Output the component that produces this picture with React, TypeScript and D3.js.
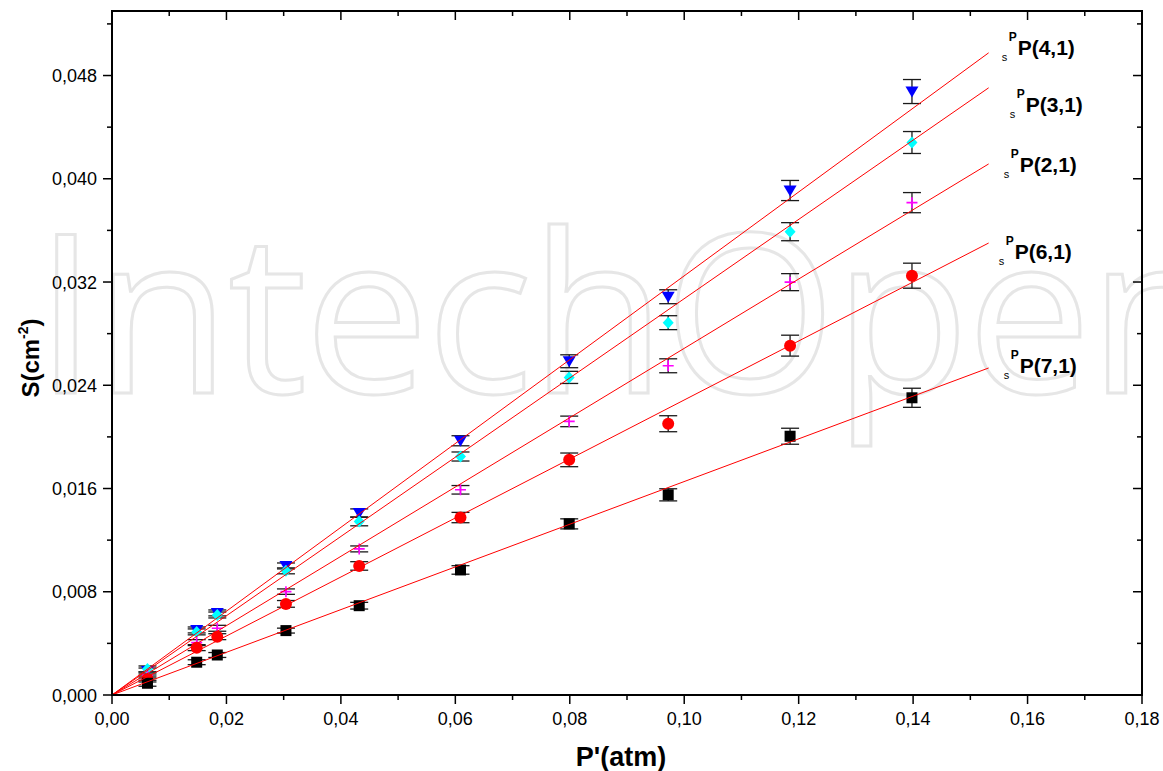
import React from "react";
import * as d3 from "d3";

// ---- data ----
const X_VALUES = [0.0062, 0.0148, 0.0184, 0.0304, 0.0432, 0.0609, 0.0799, 0.0972, 0.1185, 0.1398];

const S_P41 = [0.00186, 0.00504, 0.00636, 0.0100, 0.01411, 0.0197, 0.02586, 0.03086, 0.03909, 0.04676];
const ERR_P41 = [0.00023, 0.00023, 0.00023, 0.00023, 0.00031, 0.00039, 0.0005, 0.00054, 0.00078, 0.00093];
const S_P31 = [0.00202, 0.00489, 0.0062, 0.00962, 0.01344, 0.01848, 0.02461, 0.02885, 0.0359, 0.04281];
const ERR_P31 = [0.00023, 0.00023, 0.00023, 0.00023, 0.00033, 0.00035, 0.00047, 0.00054, 0.0007, 0.00085];
const S_P21 = [0.00155, 0.00406, 0.00517, 0.00801, 0.01132, 0.0159, 0.0212, 0.02551, 0.03199, 0.03815];
const ERR_P21 = [0.00023, 0.00023, 0.00023, 0.00021, 0.00023, 0.00033, 0.00041, 0.00054, 0.00066, 0.00078];
const S_P61 = [0.00124, 0.00367, 0.00452, 0.00706, 0.01, 0.01375, 0.01822, 0.02102, 0.02707, 0.03249];
const ERR_P61 = [0.00023, 0.00023, 0.00023, 0.00026, 0.00033, 0.0004, 0.00053, 0.00062, 0.00081, 0.00097];
const S_P71 = [0.00091, 0.00254, 0.0031, 0.00499, 0.00692, 0.00969, 0.01326, 0.01551, 0.02005, 0.02303];
const ERR_P71 = [0.00023, 0.00019, 0.00019, 0.00019, 0.00026, 0.00033, 0.00039, 0.00047, 0.00062, 0.00074];

const SERIES_NAMES = ["P(4,1)", "P(3,1)", "P(2,1)", "P(6,1)", "P(7,1)"];
const FIT_SLOPES = [0.3248, 0.3071, 0.2686, 0.2286, 0.1654];
const FIT_END = 0.1532;

const X_TICKS = [0, 0.02, 0.04, 0.06, 0.08, 0.1, 0.12, 0.14, 0.16, 0.18];
const Y_TICKS = [0, 0.008, 0.016, 0.024, 0.032, 0.04, 0.048];
const X_TICK_LABELS = ["0,00", "0,02", "0,04", "0,06", "0,08", "0,10", "0,12", "0,14", "0,16", "0,18"];
const Y_TICK_LABELS = ["0,000", "0,008", "0,016", "0,024", "0,032", "0,040", "0,048"];

// ---- layout / styles ----
const W = 1163, H = 771;
const M = { left: 112, right: 1142, top: 11, bottom: 695 };
const MARKERS = ["tri", "diamond", "plus", "circle", "square"];
const COLORS = ["#0000ff", "#00ffff", "#ff00ff", "#ff0000", "#000000"];
const LABEL_OFFSETS = [[29, 2], [37, 24], [31, 8], [26, 16], [31, 5]];
const FONT = "'Liberation Sans', Arial, sans-serif";

export default function App() {
  const x = d3.scaleLinear().domain([0, 0.18]).range([M.left, M.right]);
  const y = d3.scaleLinear().domain([0, 0.053]).range([M.bottom, M.top]);
  const seriesS = [S_P41, S_P31, S_P21, S_P61, S_P71];
  const seriesE = [ERR_P41, ERR_P31, ERR_P21, ERR_P61, ERR_P71];
  const xMinor = d3.range(0, 0.1801, 0.01);
  const yMinor = d3.range(0, 0.0521, 0.004);
  const line = d3.line<[number, number]>().x(d => x(d[0])).y(d => y(d[1]));

  const marker = (kind: string, cx: number, cy: number, color: string, key: string) => {
    switch (kind) {
      case "tri":
        return <path key={key} d={`M${cx - 6.5},${cy - 5} L${cx + 6.5},${cy - 5} L${cx},${cy + 6} Z`} fill={color} />;
      case "diamond":
        return <path key={key} d={`M${cx},${cy - 6} L${cx + 5.5},${cy} L${cx},${cy + 6} L${cx - 5.5},${cy} Z`} fill={color} />;
      case "plus":
        return <path key={key} d={`M${cx - 5.5},${cy} L${cx + 5.5},${cy} M${cx},${cy - 5.5} L${cx},${cy + 5.5}`} stroke={color} strokeWidth={1.6} fill="none" />;
      case "circle":
        return <circle key={key} cx={cx} cy={cy} r={6} fill={color} />;
      default:
        return <rect key={key} x={cx - 5.5} y={cy - 5.5} width={11} height={11} fill={color} />;
    }
  };

  return (
    <svg width={W} height={H} style={{ position: "absolute", left: 0, top: 0, background: "#fff" }}>
      <rect x={0} y={0} width={W} height={H} fill="#fff" />
      {/* watermark */}
      <text x={35} y={393} fontFamily="'Open Sans', sans-serif" fontWeight={400} fontSize={222}
        fill="none" stroke="#e6e6e6" strokeWidth={3} textLength={1190} lengthAdjust="spacing">IntechOpen</text>

      {/* error bars */}
      {seriesS.map((vals, si) => (
        <g key={"e" + si} stroke="#1a1a1a" strokeWidth={1.3}>
          {vals.map((v, i) => {
            const cx = x(X_VALUES[i]);
            const y1 = y(v + seriesE[si][i]);
            const y2 = y(v - seriesE[si][i]);
            return (
              <g key={i}>
                <line x1={cx} x2={cx} y1={y1} y2={y2} />
                <line x1={cx - 9} x2={cx + 9} y1={y1} y2={y1} />
                <line x1={cx - 9} x2={cx + 9} y1={y2} y2={y2} />
              </g>
            );
          })}
        </g>
      ))}

      {/* markers */}
      {seriesS.map((vals, si) => (
        <g key={"m" + si}>
          {vals.map((v, i) => marker(MARKERS[si], x(X_VALUES[i]), y(v), COLORS[si], `${si}-${i}`))}
        </g>
      ))}

      {/* fit lines */}
      {FIT_SLOPES.map((s, si) => (
        <path key={"f" + si} d={line([[0, 0], [FIT_END, s * FIT_END]]) || ""} stroke="#ff0000" strokeWidth={1} fill="none" />
      ))}

      {/* series labels */}
      {SERIES_NAMES.map((name, si) => {
        const bx = x(FIT_END) + LABEL_OFFSETS[si][0];
        const by = y(FIT_SLOPES[si] * FIT_END) + LABEL_OFFSETS[si][1];
        return (
          <g key={"l" + si} fontFamily={FONT} fill="#000">
            <text x={bx - 16} y={by + 6} fontSize={11}>s</text>
            <text x={bx - 9} y={by - 14} fontSize={12} fontWeight="bold">P</text>
            <text x={bx} y={by} fontSize={21} fontWeight="bold">{name}</text>
          </g>
        );
      })}

      {/* frame */}
      <rect x={M.left} y={M.top} width={M.right - M.left} height={M.bottom - M.top} fill="none" stroke="#000" strokeWidth={2} />

      {/* ticks */}
      <g stroke="#000" strokeWidth={1.5}>
        {xMinor.map((t, i) => {
          const major = i % 2 === 0;
          const len = major ? 9 : 5;
          return (
            <g key={"xt" + i}>
              <line x1={x(t)} x2={x(t)} y1={M.bottom} y2={M.bottom + len} />
              <line x1={x(t)} x2={x(t)} y1={M.top} y2={M.top + len} />
            </g>
          );
        })}
        {yMinor.map((t, i) => {
          const major = i % 2 === 0;
          const len = major ? 9 : 5;
          return (
            <g key={"yt" + i}>
              <line x1={M.left} x2={M.left - len} y1={y(t)} y2={y(t)} />
              <line x1={M.right} x2={M.right - len} y1={y(t)} y2={y(t)} />
            </g>
          );
        })}
      </g>

      {/* tick labels */}
      {X_TICKS.map((t, i) => (
        <text key={"xl" + i} x={x(t)} y={725} textAnchor="middle" fontFamily={FONT} fontSize={18}>{X_TICK_LABELS[i]}</text>
      ))}
      {Y_TICKS.map((t, i) => (
        <text key={"yl" + i} x={97} y={y(t) + 6.5} textAnchor="end" fontFamily={FONT} fontSize={18}>{Y_TICK_LABELS[i]}</text>
      ))}

      {/* axis titles */}
      <text x={621} y={766} textAnchor="middle" fontFamily={FONT} fontSize={27} fontWeight="bold">P'(atm)</text>
      <text transform="translate(39,358) rotate(-90)" textAnchor="middle" fontFamily={FONT} fontSize={24} fontWeight="bold">
        S(cm<tspan fontSize={14} dy={-11}>-2</tspan><tspan dy={11}>)</tspan>
      </text>
    </svg>
  );
}
